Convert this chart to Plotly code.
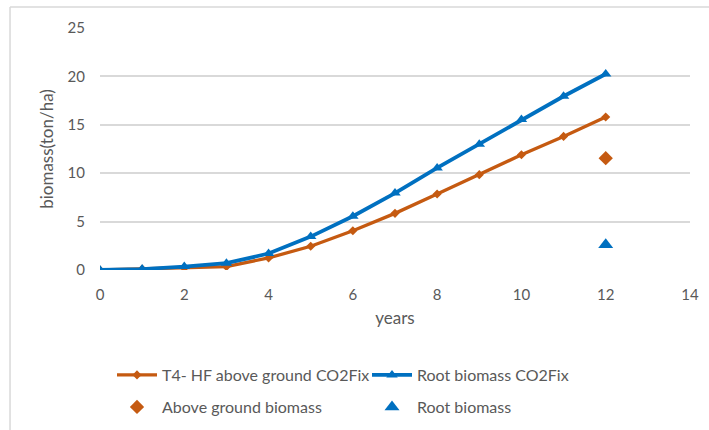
import plotly.graph_objects as go

# CO2Fix model output, years 0-12
years = [0, 1, 2, 3, 4, 5, 6, 7, 8, 9, 10, 11, 12]
above_co2fix = [0, 0.1, 0.2, 0.35, 1.25, 2.45, 4.05, 5.85, 7.85, 9.85, 11.9, 13.8, 15.8]
root_co2fix = [0, 0.1, 0.35, 0.7, 1.7, 3.45, 5.55, 7.95, 10.55, 13.0, 15.55, 17.95, 20.25]

# Measured biomass at year 12
measured_year = [12]
above_measured = [11.55]
root_measured = [2.6]

ORANGE = "#C55A11"
BLUE = "#0070C0"
GREY = "#595959"
FONT = "Lato"

fig = go.Figure()
fig.add_trace(go.Scatter(
    x=years, y=above_co2fix, mode="lines+markers",
    name="T4- HF above ground CO2Fix", legend="legend",
    line=dict(color=ORANGE, width=3.3),
    marker=dict(symbol="diamond", size=7, color=ORANGE),
))
fig.add_trace(go.Scatter(
    x=years, y=root_co2fix, mode="lines+markers",
    name="Root biomass CO2Fix", legend="legend",
    line=dict(color=BLUE, width=3.8),
    marker=dict(symbol="triangle-up", size=10, color=BLUE),
))
fig.add_trace(go.Scatter(
    x=measured_year, y=above_measured, mode="markers",
    name="Above ground biomass", legend="legend2",
    marker=dict(symbol="diamond", size=11, color=ORANGE),
))
fig.add_trace(go.Scatter(
    x=measured_year, y=root_measured, mode="markers",
    name="Root biomass", legend="legend2",
    marker=dict(symbol="triangle-up", size=13, color=BLUE),
))

# chart-area border (top and left edges)
fig.add_shape(type="line", xref="paper", yref="paper",
              x0=-0.1525, y0=1.087, x1=1.1, y1=1.087,
              line=dict(color="#D9D9D9", width=1.5))
fig.add_shape(type="line", xref="paper", yref="paper",
              x0=-0.1525, y0=1.087, x1=-0.1525, y1=-1.0,
              line=dict(color="#D9D9D9", width=1.5))

legend_common = dict(
    orientation="h", xanchor="left", yanchor="middle",
    xref="container", yref="container",
    entrywidth=200, entrywidthmode="pixels", itemwidth=40,
    font=dict(family=FONT, size=16, color=GREY),
    bgcolor="rgba(0,0,0,0)",
)

fig.update_layout(
    width=709, height=430,
    margin=dict(l=100, r=19, t=28, b=160, autoexpand=False),
    paper_bgcolor="white", plot_bgcolor="white",
    font=dict(family=FONT, size=15, color=GREY),
    showlegend=True,
    legend=dict(legend_common, x=112 / 709, y=1 - 375 / 430),
    legend2=dict(legend_common, x=112 / 709, y=1 - 407 / 430),
)
fig.update_xaxes(
    range=[0, 14], tickvals=[0, 2, 4, 6, 8, 10, 12, 14],
    showgrid=False, zeroline=False, showline=False,
    ticks="", ticklabelstandoff=14,
    tickfont=dict(family=FONT, size=15, color=GREY),
    title=dict(text="years", standoff=10, font=dict(family=FONT, size=17, color=GREY)),
)
fig.update_yaxes(
    range=[0, 25], tickvals=[0, 5, 10, 15, 20, 25],
    showgrid=True, gridcolor="#D9D9D9", gridwidth=1.5,
    zeroline=False, showline=False, ticks="", ticklabelstandoff=14,
    tickfont=dict(family=FONT, size=15, color=GREY),
    title=dict(text="biomass(ton/ha)", standoff=9, font=dict(family=FONT, size=17, color=GREY)),
)

fig.write_html("out.html")
